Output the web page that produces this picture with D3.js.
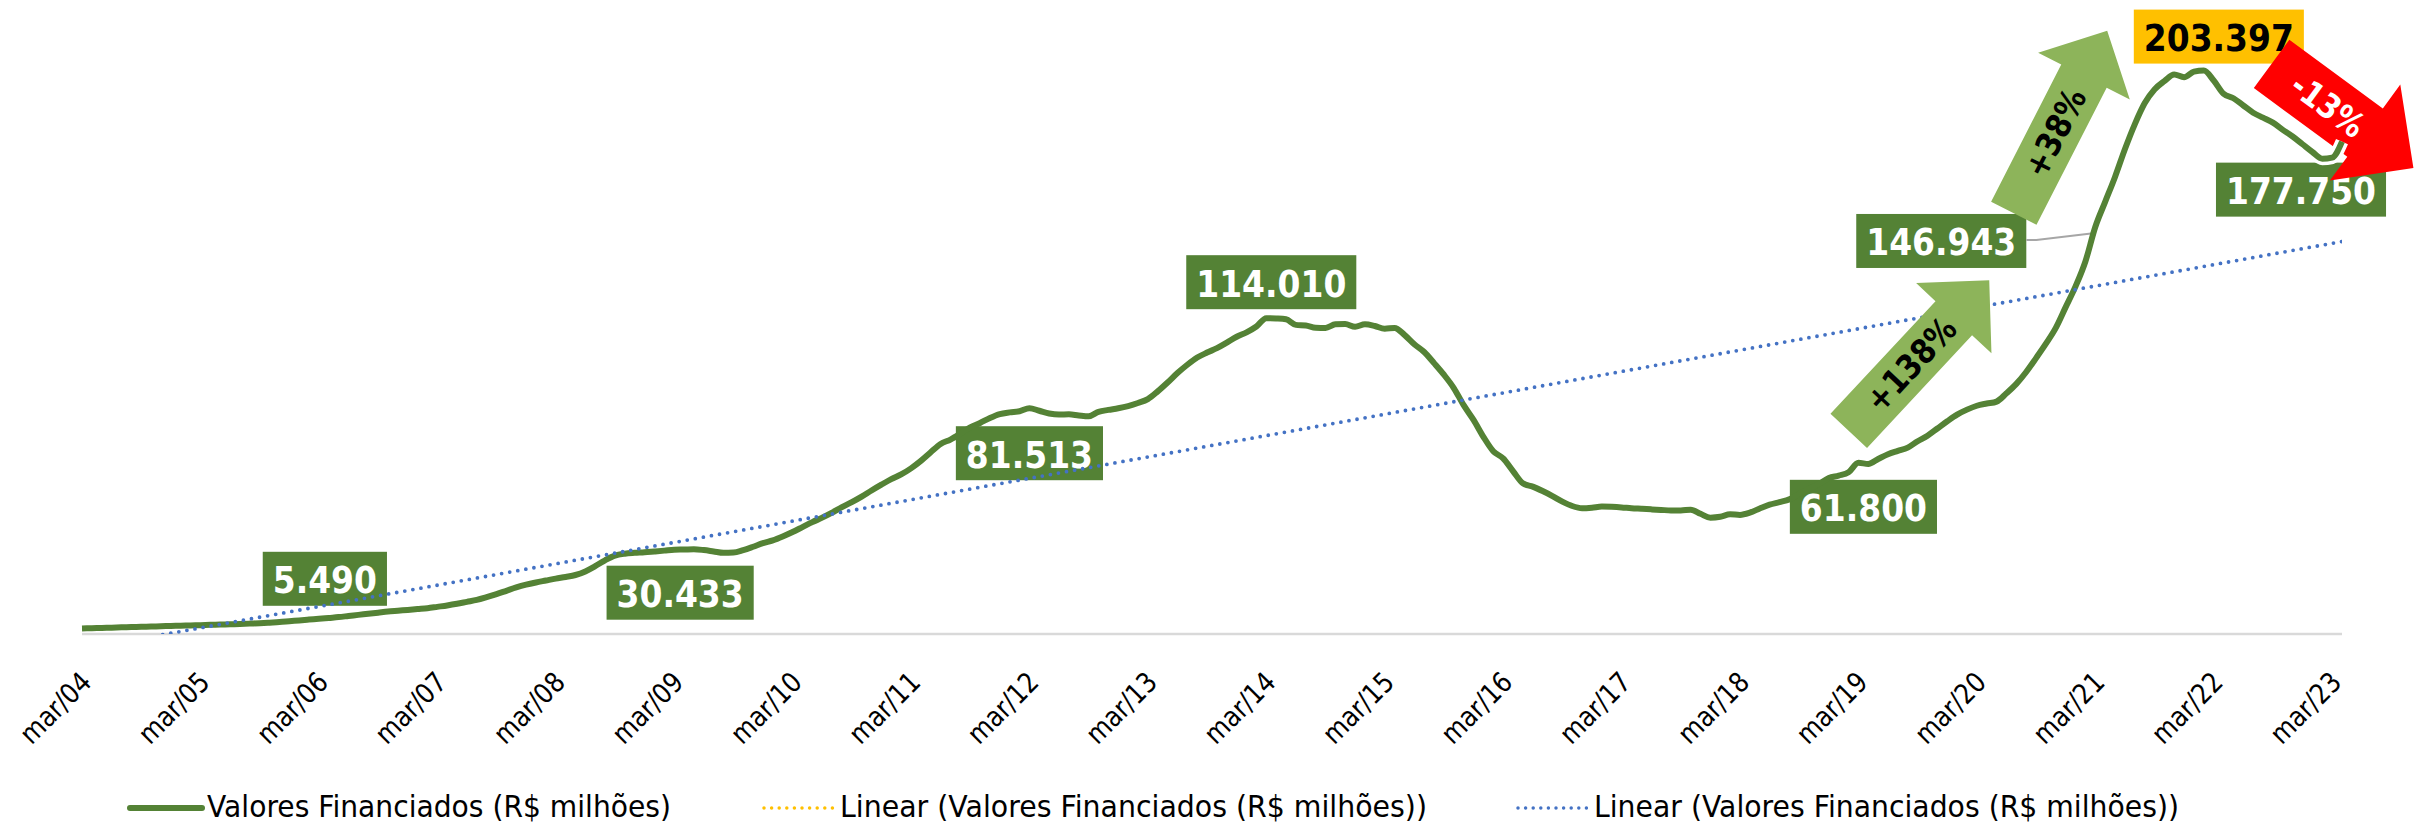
<!DOCTYPE html>
<html>
<head>
<meta charset="utf-8">
<script src="https://cdn.jsdelivr.net/npm/d3@7"></script>
<style>
  html, body { margin: 0; padding: 0; background: #fff; }
  svg { display: block; font-family: "DejaVu Sans", Verdana, sans-serif; }
</style>
</head>
<body>
<svg id="chart" width="2419" height="831"></svg>
<script>
// Valores Financiados (R$ milhões), monthly, mar/04 .. abr/23
const values = [
  2000, 2100, 2200, 2300, 2400, 2500, 2600, 2700, 2800, 2900, 3000, 3100,
  3200, 3300, 3400, 3500, 3600, 3750, 3900, 4100, 4300, 4600, 4900, 5200,
  5490, 5800, 6100, 6500, 6900, 7300, 7700, 8100, 8400, 8700, 9000, 9300,
  9800, 10300, 10900, 11600, 12300, 13300, 14400, 15600, 16800, 17800, 18600, 19300,
  20000, 20600, 21300, 22600, 24500, 26600, 28300, 29000, 29300, 29500, 29800, 30100,
  30433, 30500, 30600, 30300, 29800, 29300, 29400, 30300, 31500, 32800, 33800, 35200,
  36800, 38600, 40400, 42000, 43800, 45800, 47600, 49600, 51800, 53900, 55900, 57600,
  59800, 62500, 65600, 68600, 70200, 72300, 74600, 76200, 78000, 79400, 80000, 80400,
  81513, 80600, 79600, 79200, 79300, 78900, 78600, 80200, 80900, 81500, 82300, 83400,
  84800, 87600, 90800, 94200, 97200, 99800, 101600, 103200, 105200, 107300, 108900, 111000,
  114010, 113900, 113600, 111600, 111400, 110600, 110500, 111800, 111900, 110900, 111800, 111200,
  110200, 110500, 108000, 104600, 101800, 97800, 93600, 88800, 82600, 77300, 71200, 66000,
  63400, 58800, 54400, 53200, 51600, 49800, 47800, 46200, 45400, 45600, 46000, 45900,
  45700, 45400, 45200, 45000, 44800, 44600, 44600, 44900, 43400, 42000, 42300, 43200,
  43000, 43800, 45300, 46700, 47600, 48600, 50600, 52400, 54200, 56300, 57200, 58400,
  61800, 61400, 63200, 64900, 66100, 67300, 69600, 71600, 74200, 76800, 79200, 81000,
  82400, 83200, 83900, 86900, 90300, 94600, 99600, 104800, 110500, 118000, 125500, 134500,
  146943, 156000, 165000, 175000, 184000, 191600, 196600, 199600, 202000, 201000, 203000, 203397,
  199800, 195000, 193400, 190800, 188200, 186400, 184600, 182000, 179600, 176800, 174000, 171600,
  172000, 177750
];

const tickLabels = [
  "mar/04", "mar/05", "mar/06", "mar/07", "mar/08", "mar/09", "mar/10",
  "mar/11", "mar/12", "mar/13", "mar/14", "mar/15", "mar/16", "mar/17",
  "mar/18", "mar/19", "mar/20", "mar/21", "mar/22", "mar/23"
];
const tickEvery = 12;

// highlighted points (month index)
const labelIndex = [24, 60, 96, 120, 180, 204, 215, 229];
const labelFill = ["#548235", "#548235", "#548235", "#548235", "#548235", "#548235", "#FFC000", "#548235"];
const labelColor = ["#fff", "#fff", "#fff", "#fff", "#fff", "#fff", "#000", "#fff"];
// box centre offset from the point, px
const labelOffset = [[6, -40], [6, 43], [0, 45], [5, -36], [5, 44], [-154, 14], [15, -34], [-41, 48]];

const legendNames = [
  "Valores Financiados (R$ milhões)",
  "Linear (Valores Financiados (R$ milhões))",
  "Linear (Valores Financiados (R$ milhões))"
];

const W = 2419, H = 831;
const margin = {left: 82, right: 77, top: 10, bottom: 197};
const GREEN = "#548235", BLUE = "#4472C4", YELLOW = "#FFC000";

const svg = d3.select("#chart");
svg.append("rect").attr("width", W).attr("height", H).attr("fill", "#fff");

const x = d3.scaleLinear()
    .domain([0, values.length - 1])
    .range([margin.left, W - margin.right]);

const y = d3.scaleLinear()
    .domain([0, 225000])
    .range([H - margin.bottom, H - margin.bottom - 225 * 2.77]);

const y0 = y(0);

function condense(sel, factor) {
    sel.each(function() {
        const w = this.getComputedTextLength();
        this.setAttribute("textLength", w * factor);
        this.setAttribute("lengthAdjust", "spacingAndGlyphs");
    });
}

svg.append("clipPath").attr("id", "plot-clip")
    .append("rect")
    .attr("x", x(0)).attr("y", 0)
    .attr("width", x(values.length - 1) - x(0))
    .attr("height", y0);

// category axis
svg.append("line")
    .attr("x1", x(0)).attr("x2", x(values.length - 1))
    .attr("y1", y0).attr("y2", y0)
    .attr("stroke", "#D9D9D9").attr("stroke-width", 2.5);

svg.append("g").selectAll("text")
    .data(tickLabels)
    .join("text")
    .attr("transform", (d, k) => `translate(${x(k * tickEvery) + 11},${y0 + 50}) rotate(-45)`)
    .attr("text-anchor", "end")
    .attr("font-size", 28)
    .attr("fill", "#000")
    .text(d => d)
    .call(condense, 0.86);

// label boxes first (arrow and line sit over some of them)
const labelFont = 38;
const labels = svg.append("g");
const labelData = labelIndex.map((i, k) => ({
    i: i, v: values[i],
    cx: x(i) + labelOffset[k][0], cy: y(values[i]) + labelOffset[k][1],
    fill: labelFill[k], color: labelColor[k]
}));

const fmt = v => d3.format(",")(v).replace(/,/g, ".");

// measure text first
const measure = svg.append("text").attr("font-size", labelFont).attr("font-weight", "bold");
labelData.forEach(d => {
    measure.text(fmt(d.v));
    d.tw = measure.node().getComputedTextLength() * 0.867;
});
measure.remove();

labels.selectAll("rect")
    .data(labelData)
    .join("rect")
    .attr("x", d => d.cx - d.tw / 2 - 10)
    .attr("y", d => d.cy - 27)
    .attr("width", d => d.tw + 20)
    .attr("height", 54)
    .attr("fill", d => d.fill);

// leader line for the mar/21 label
const lead = labelData[5];
svg.append("path")
    .attr("d", d3.line()([[lead.cx + lead.tw / 2 + 10, lead.cy - 1], [lead.cx + lead.tw / 2 + 20, lead.cy - 1], [x(lead.i), y(lead.v) + 6]]))
    .attr("fill", "none").attr("stroke", "#A6A6A6").attr("stroke-width", 2);

// block arrows (pixel geometry)
const arrows = [
    {cx: 1919, cy: 355.5, len: 206, angle: -47, shaft: 25, head: 51.5, headLen: 52, fill: "#8DB45A", text: "+138%", color: "#000", shift: -12},
    {cx: 2060.5, cy: 122, len: 205, angle: -62.9, shaft: 25.5, head: 51.5, headLen: 51, fill: "#8DB45A", text: "+38%", color: "#000", shift: -12},
    {cx: 2342.5, cy: 116, len: 176, angle: 36.3, shaft: 30, head: 59.5, headLen: 60, fill: "#FF0000", text: "-13%", color: "#fff", shift: -18}
];

function arrowPath(a) {
    const h = a.len / 2, b = h - a.headLen;
    return d3.line()([[-h, -a.shaft], [b, -a.shaft], [b, -a.head], [h, 0], [b, a.head], [b, a.shaft], [-h, a.shaft]]) + "Z";
}

const red = arrows[2];
svg.append("path")
    .attr("transform", `translate(${red.cx},${red.cy}) rotate(${red.angle})`)
    .attr("d", arrowPath(red))
    .attr("fill", red.fill);

// series line
const line = d3.line()
    .x((d, i) => x(i))
    .y(d => y(d))
    .curve(d3.curveMonotoneX);

const tailStart = 217;
svg.append("path")
    .datum(values.map((v, i) => [i, v]).filter(d => d[0] >= tailStart))
    .attr("fill", "none")
    .attr("stroke", "#fff")
    .attr("stroke-width", 13)
    .attr("stroke-linejoin", "round")
    .attr("d", d3.line().x(d => x(d[0])).y(d => y(d[1])).curve(d3.curveMonotoneX));

svg.append("path")
    .datum(values)
    .attr("fill", "none")
    .attr("stroke", GREEN)
    .attr("stroke-width", 6)
    .attr("stroke-linejoin", "round")
    .attr("d", line);

// label texts
labels.selectAll("text")
    .data(labelData)
    .join("text")
    .attr("x", d => d.cx)
    .attr("y", d => d.cy + 14.5)
    .attr("text-anchor", "middle")
    .attr("font-size", labelFont)
    .attr("font-weight", "bold")
    .attr("fill", d => d.color)
    .attr("textLength", d => d.tw)
    .attr("lengthAdjust", "spacingAndGlyphs")
    .text(d => fmt(d.v));

// linear trend (least squares)
const n = values.length;
const mx = d3.mean(values, (v, i) => i);
const my = d3.mean(values);
const slope = d3.sum(values, (v, i) => (i - mx) * (v - my)) / d3.sum(values, (v, i) => (i - mx) * (i - mx));
const icpt = my - slope * mx;

svg.append("path")
    .attr("clip-path", "url(#plot-clip)")
    .attr("d", d3.line()([[x(0), y(icpt)], [x(n - 1), y(icpt + slope * (n - 1))]]))
    .attr("fill", "none")
    .attr("stroke", BLUE)
    .attr("stroke-width", 3.8)
    .attr("stroke-linecap", "round")
    .attr("stroke-dasharray", "0 8.2");

// green arrows + all arrow texts
arrows.slice(0, 2).forEach(a => {
    svg.append("path")
        .attr("transform", `translate(${a.cx},${a.cy}) rotate(${a.angle})`)
        .attr("d", arrowPath(a))
        .attr("fill", a.fill);
});

arrows.forEach(a => {
    svg.append("text")
        .attr("transform", `translate(${a.cx},${a.cy}) rotate(${a.angle}) translate(${a.shift},12)`)
        .attr("text-anchor", "middle")
        .attr("font-size", 34)
        .attr("font-weight", "bold")
        .attr("fill", a.color)
        .text(a.text)
        .call(condense, 0.86);
});

// legend
const legendX = [130, 764, 1518];
const legendTextW = [464, 587, 585];
const legendY = 808;
const lg = svg.append("g");

lg.append("line")
    .attr("x1", legendX[0]).attr("x2", legendX[0] + 72)
    .attr("y1", legendY).attr("y2", legendY)
    .attr("stroke", GREEN).attr("stroke-width", 6).attr("stroke-linecap", "round");

[YELLOW, BLUE].forEach((c, k) => {
    lg.append("line")
        .attr("x1", legendX[k + 1]).attr("x2", legendX[k + 1] + 70)
        .attr("y1", legendY).attr("y2", legendY)
        .attr("stroke", c).attr("stroke-width", 3.5)
        .attr("stroke-linecap", "round")
        .attr("stroke-dasharray", "0 7.6");
});

lg.selectAll("text.name")
    .data(legendNames)
    .join("text")
    .attr("class", "name")
    .attr("x", (d, k) => legendX[k] + (k === 0 ? 77 : 76))
    .attr("y", legendY + 9)
    .attr("font-size", 30)
    .attr("fill", "#000")
    .attr("textLength", (d, k) => legendTextW[k])
    .attr("lengthAdjust", "spacingAndGlyphs")
    .text(d => d);
</script>
</body>
</html>
